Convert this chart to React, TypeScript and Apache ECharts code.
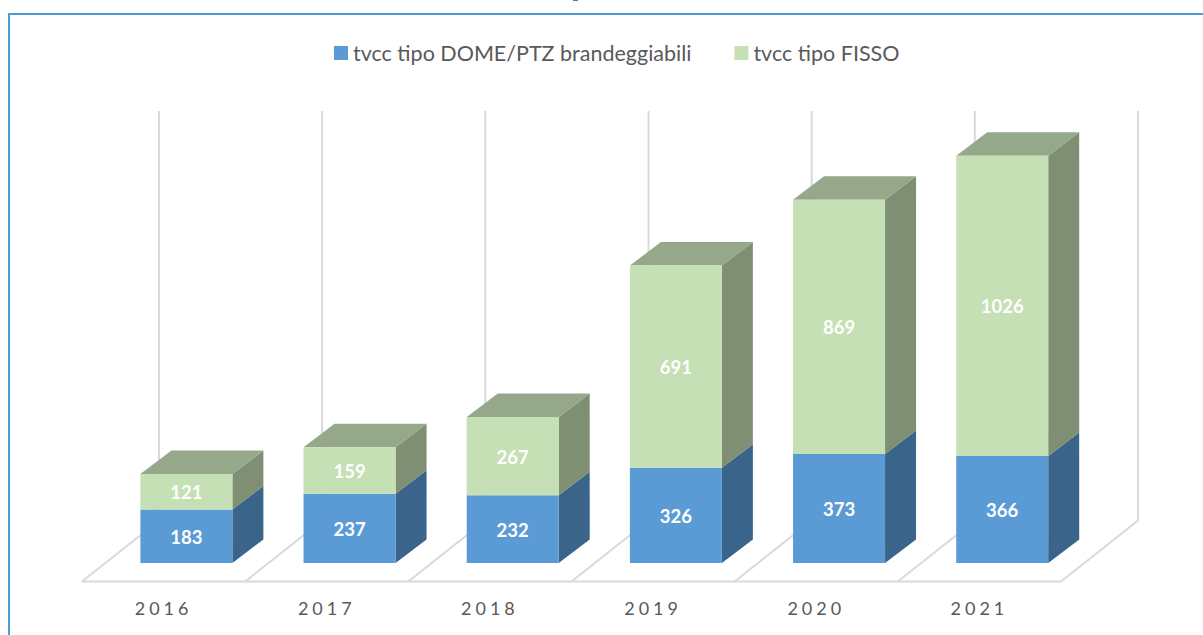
import React, { useEffect, useRef } from "react";
import * as echarts from "echarts";

const years = ["2016", "2017", "2018", "2019", "2020", "2021"];
const domeName = "tvcc tipo DOME/PTZ brandeggiabili";
const fixedName = "tvcc tipo FISSO";
const domeValues = [183, 237, 232, 326, 373, 366];
const fixedValues = [121, 159, 267, 691, 869, 1026];
const axisMax = 1400;

const FONT = "Lato, Carlito, sans-serif";
const FLOOR_FRONT = 18.5;
const FLOOR_BACK = 42.5;
const FLOOR_DX = 77;
const FRONT_SHIFT = 22.8;
const BAR_W = 92;
const SIDE_DX = 31;
const SIDE_DY = 23.5;
const GRID_COLOR = "#d9d9d9";

function barRenderer(front: string, side: string, top: string | null) {
  return (_: any, api: any) => {
    const idx = api.value(0);
    const from = api.coord([idx, api.value(1)]);
    const to = api.coord([idx, api.value(2)]);
    const x0 = from[0] + FRONT_SHIFT - BAR_W / 2;
    const x1 = x0 + BAR_W;
    const y0 = from[1];
    const y1 = to[1];
    const children: any[] = [
      {
        type: "polygon",
        shape: { points: [[x1, y0], [x1 + SIDE_DX, y0 - SIDE_DY], [x1 + SIDE_DX, y1 - SIDE_DY], [x1, y1]] },
        style: { fill: side },
      },
    ];
    if (top) {
      children.push({
        type: "polygon",
        shape: { points: [[x0, y1], [x0 + SIDE_DX, y1 - SIDE_DY], [x1 + SIDE_DX, y1 - SIDE_DY], [x1, y1]] },
        style: { fill: top },
      });
    }
    children.push(
      { type: "rect", shape: { x: x0, y: y1, width: BAR_W, height: y0 - y1 }, style: { fill: front } },
      {
        type: "text",
        x: (x0 + x1) / 2,
        y: (y0 + y1) / 2 + 0.6,
        style: {
          text: String(api.value(2) - api.value(1)),
          fill: "#ffffff",
          font: `bold 18.5px ${FONT}`,
          textAlign: "center",
          textVerticalAlign: "middle",
        },
      }
    );
    return { type: "group", children };
  };
}

function wallRenderer(_: any, api: any) {
  const idx = api.value(0);
  const band = api.size([1, 0])[0];
  const base = api.coord([idx, 0]);
  const topY = api.coord([idx, axisMax])[1] - FLOOR_BACK;
  const xs = [base[0] - band / 2];
  if (idx === years.length - 1) xs.push(base[0] + band / 2);
  const lineStyle = { stroke: GRID_COLOR, lineWidth: 2, fill: "none" };
  const children: any[] = xs.map((x) => ({
    type: "polyline",
    shape: {
      points: [
        [x, base[1] + FLOOR_FRONT],
        [x + FLOOR_DX, base[1] - FLOOR_BACK],
        [x + FLOOR_DX, topY],
      ],
    },
    style: lineStyle,
  }));
  children.push({
    type: "line",
    shape: { x1: base[0] - band / 2, y1: base[1] + FLOOR_FRONT, x2: base[0] + band / 2, y2: base[1] + FLOOR_FRONT },
    style: lineStyle,
  });
  return { type: "group", children };
}

export default function App() {
  const ref = useRef<HTMLDivElement>(null);
  useEffect(() => {
    const chart = echarts.init(ref.current!, null, { renderer: "svg" });
    chart.setOption({
      animation: false,
      backgroundColor: "#ffffff",
      graphic: [
        { type: "rect", shape: { x: 8, y: 13, width: 1195, height: 2 }, style: { fill: "#4e9ed6" }, silent: true },
        { type: "rect", shape: { x: 8, y: 13, width: 2, height: 622 }, style: { fill: "#4e9ed6" }, silent: true },
        { type: "rect", shape: { x: 573, y: 0, width: 5, height: 1 }, style: { fill: "#2e86c9" }, silent: true },
      ],
      legend: {
        left: 334,
        top: 42,
        itemWidth: 14,
        itemHeight: 14,
        itemGap: 43,
        padding: 0,
        data: [domeName, fixedName],
        icon: "rect",
        textStyle: { fontFamily: FONT, fontSize: 21.5, color: "#595959", padding: [0, 0, 0, 0] },
      },
      grid: { left: 82, width: 979, top: 153.5, height: 409.5, containLabel: false },
      xAxis: {
        type: "category",
        data: years,
        boundaryGap: true,
        axisLine: { show: false },
        axisTick: { show: false },
        splitLine: { show: false },
        axisLabel: { margin: 35.5, fontFamily: FONT, fontSize: 18, color: "#595959", interval: 0 },
      },
      yAxis: {
        type: "value",
        min: 0,
        max: axisMax,
        interval: 200,
        axisLabel: { show: false },
        axisLine: { show: false },
        axisTick: { show: false },
        splitLine: { show: false },
      },
      series: [
        {
          type: "custom",
          name: "walls",
          silent: true,
          renderItem: wallRenderer,
          encode: { x: 0, y: 1 },
          data: years.map((_, i) => [i, 0]),
          z: 1,
        },
        {
          type: "custom",
          name: domeName,
          itemStyle: { color: "#5b9bd5" },
          renderItem: barRenderer("#5b9bd5", "#3a6489", null),
          encode: { x: 0, y: [1, 2] },
          data: domeValues.map((v, i) => [i, 0, v]),
          z: 2,
        },
        {
          type: "custom",
          name: fixedName,
          itemStyle: { color: "#c5e0b4" },
          renderItem: barRenderer("#c5e0b4", "#7e8f74", "#95a98a"),
          encode: { x: 0, y: [1, 2] },
          data: fixedValues.map((v, i) => [i, domeValues[i], domeValues[i] + v]),
          z: 3,
        },
      ],
    });
    ref.current!.querySelectorAll("text").forEach((t) => {
      if (years.includes((t.textContent || "").trim())) t.style.letterSpacing = "4px";
    });
    return () => chart.dispose();
  }, []);
  return <div ref={ref} style={{ position: "absolute", left: 0, top: 0, width: 1203, height: 635 }} />;
}
